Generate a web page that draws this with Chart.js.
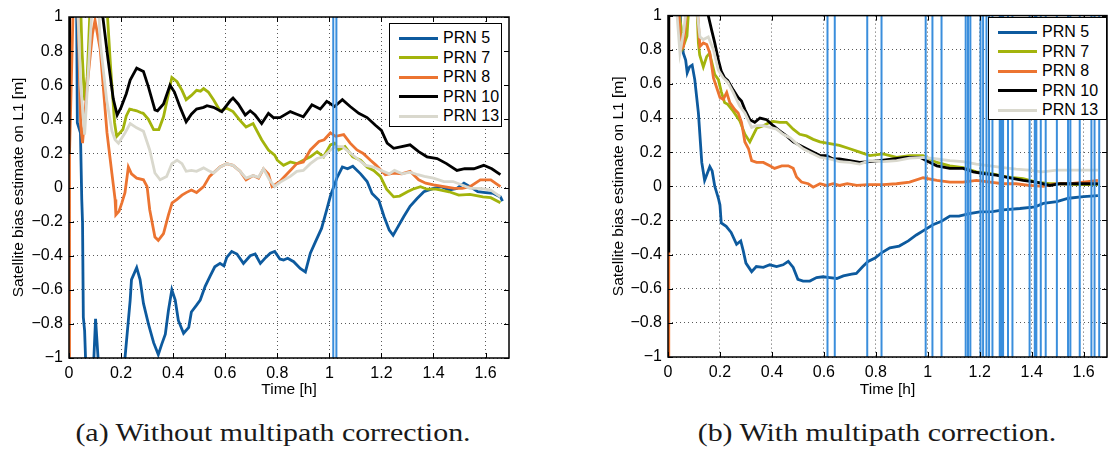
<!DOCTYPE html>
<html lang="en">
<head>
<meta charset="UTF-8">
<title>Satellite bias estimate on L1</title>
<script src="https://cdn.jsdelivr.net/npm/chart.js"></script>
<style>
  body { margin: 0; background: #fff; width: 1109px; height: 450px; position: relative; overflow: hidden; }
  canvas { position: absolute; top: 0; }
  #chartA { left: 0; }
  #chartB { left: 600px; }
  .legend { position: absolute; background: #fff; border: 1px solid #000; box-sizing: border-box; padding-top: 4px;
            font-family: "Liberation Sans", Arial, sans-serif; font-size: 16px; color: #000; }
  .legend div { position: relative; height: 19.5px; line-height: 19.5px; padding-left: 53px; white-space: nowrap; }
  .legend span { position: absolute; left: 9px; top: 8.5px; width: 39px; height: 3px; }
  .caption { position: absolute; top: 418px; width: 540px; text-align: center; white-space: nowrap;
             font-family: "Liberation Serif", "Times New Roman", serif; font-size: 26px; color: #1a1a1a; transform: scaleX(1.15); }
</style>
</head>
<body>
  <canvas id="chartA" width="540" height="400"></canvas>
  <canvas id="chartB" width="509" height="400"></canvas>
  <div class="legend" id="legendA" style="left:389px; top:23px; width:113px; height:104px;"></div>
  <div class="legend" id="legendB" style="left:988px; top:17px; width:119px; height:103px;"></div>
  <div class="caption" style="left:3px;">(a) Without multipath correction.</div>
  <div class="caption" style="left:607px;">(b) With multipath correction.</div>

<script>
// axes
const xTicks = [0, 0.2, 0.4, 0.6, 0.8, 1, 1.2, 1.4, 1.6];
const yTicks = [-1, -0.8, -0.6, -0.4, -0.2, 0, 0.2, 0.4, 0.6, 0.8, 1];
const xMax = 1.69;

const labels = ['PRN 5', 'PRN 7', 'PRN 8', 'PRN 10', 'PRN 13'];
const colors = ['#0d5a9e', '#a3b40c', '#ec7431', '#000000', '#d9d8cd'];

// (a) without multipath correction  [time h, bias m]
const a5 = [[0,0.85],[0.008,1.6],[0.028,1.4],[0.032,0.38],[0.044,0.32],[0.049,-0.07],[0.052,-0.21],[0.055,-0.76],[0.06,-0.84],[0.07,-1.3],[0.09,-1.2],[0.102,-0.77],[0.12,-1.2],[0.15,-1.5],[0.2,-1.3],[0.215,-1.0],[0.235,-0.66],[0.24,-0.54],[0.26,-0.47],[0.273,-0.54],[0.286,-0.68],[0.305,-0.8],[0.325,-0.91],[0.343,-0.98],[0.356,-0.92],[0.37,-0.86],[0.382,-0.72],[0.395,-0.6],[0.408,-0.66],[0.42,-0.78],[0.44,-0.855],[0.46,-0.82],[0.47,-0.73],[0.49,-0.69],[0.504,-0.66],[0.523,-0.58],[0.542,-0.52],[0.56,-0.465],[0.58,-0.445],[0.595,-0.46],[0.606,-0.41],[0.625,-0.375],[0.645,-0.39],[0.67,-0.445],[0.696,-0.4],[0.715,-0.39],[0.735,-0.445],[0.756,-0.41],[0.773,-0.385],[0.79,-0.375],[0.81,-0.42],[0.824,-0.425],[0.84,-0.415],[0.863,-0.435],[0.888,-0.475],[0.908,-0.495],[0.927,-0.385],[0.946,-0.32],[0.97,-0.24],[0.99,-0.13],[1.004,-0.05],[1.03,0.06],[1.05,0.12],[1.07,0.11],[1.09,0.125],[1.12,0.08],[1.145,0.035],[1.164,-0.035],[1.19,-0.075],[1.21,-0.17],[1.23,-0.25],[1.245,-0.28],[1.26,-0.24],[1.286,-0.17],[1.31,-0.11],[1.337,-0.065],[1.363,-0.025],[1.4,-0.005],[1.43,0.005],[1.46,-0.015],[1.49,-0.005],[1.517,0.025],[1.54,0.005],[1.57,-0.025],[1.6,-0.03],[1.63,-0.035],[1.657,-0.055],[1.665,-0.08]];
const a7 = [[0,1.6],[0.04,1.3],[0.05,0.8],[0.06,0.51],[0.07,0.65],[0.085,1.2],[0.12,1.5],[0.14,1.2],[0.16,0.7],[0.175,0.38],[0.183,0.3],[0.195,0.32],[0.207,0.34],[0.22,0.42],[0.233,0.46],[0.245,0.455],[0.26,0.45],[0.275,0.44],[0.285,0.435],[0.305,0.4],[0.325,0.34],[0.345,0.34],[0.363,0.415],[0.382,0.55],[0.395,0.645],[0.415,0.62],[0.434,0.57],[0.45,0.515],[0.47,0.54],[0.49,0.57],[0.505,0.565],[0.517,0.58],[0.535,0.56],[0.555,0.515],[0.58,0.45],[0.606,0.465],[0.63,0.445],[0.656,0.395],[0.68,0.355],[0.707,0.375],[0.74,0.28],[0.766,0.22],[0.79,0.19],[0.8,0.16],[0.824,0.13],[0.85,0.15],[0.875,0.14],[0.9,0.16],[0.927,0.18],[0.953,0.21],[0.978,0.18],[1.004,0.25],[1.02,0.26],[1.036,0.22],[1.06,0.24],[1.09,0.18],[1.12,0.16],[1.145,0.12],[1.17,0.1],[1.196,0.065],[1.22,-0.01],[1.247,-0.055],[1.27,-0.05],[1.3,-0.025],[1.32,-0.01],[1.35,0.005],[1.375,-0.01],[1.41,-0.01],[1.46,-0.025],[1.497,-0.045],[1.54,-0.04],[1.59,-0.055],[1.62,-0.06],[1.657,-0.09]];
const a8 = [[0,-1.5],[0.002,0.2],[0.02,1.3],[0.035,1.0],[0.045,0.36],[0.052,0.26],[0.07,0.6],[0.09,0.9],[0.1,0.98],[0.12,0.81],[0.146,0.32],[0.165,0.08],[0.177,-0.07],[0.18,-0.16],[0.192,-0.14],[0.203,-0.09],[0.215,-0.03],[0.228,0.12],[0.24,0.08],[0.26,0.055],[0.286,0.045],[0.3,0.005],[0.31,-0.13],[0.33,-0.29],[0.343,-0.31],[0.363,-0.27],[0.382,-0.16],[0.396,-0.09],[0.415,-0.07],[0.434,-0.045],[0.45,-0.03],[0.47,-0.015],[0.49,-0.03],[0.517,0.005],[0.54,0.065],[0.58,0.12],[0.606,0.14],[0.63,0.13],[0.657,0.095],[0.68,0.045],[0.707,0.07],[0.728,0.055],[0.747,0.11],[0.766,0.08],[0.78,0.005],[0.81,0.035],[0.85,0.1],[0.875,0.14],[0.9,0.15],[0.927,0.22],[0.96,0.27],[0.98,0.28],[1.004,0.32],[1.024,0.3],[1.055,0.31],[1.08,0.26],[1.106,0.22],[1.13,0.2],[1.158,0.16],[1.18,0.13],[1.215,0.075],[1.247,0.085],[1.278,0.08],[1.31,0.095],[1.343,0.045],[1.37,0.025],[1.4,0.015],[1.44,0.005],[1.48,-0.005],[1.51,-0.005],[1.54,0.005],[1.58,0.045],[1.62,0.045],[1.657,0.005]];
const a10 = [[0,0.2],[0.004,1.5],[0.1,1.4],[0.13,1.0],[0.15,0.75],[0.17,0.52],[0.185,0.425],[0.2,0.47],[0.22,0.55],[0.235,0.63],[0.26,0.7],[0.286,0.68],[0.305,0.59],[0.33,0.455],[0.34,0.45],[0.363,0.49],[0.388,0.6],[0.405,0.56],[0.427,0.47],[0.45,0.385],[0.47,0.43],[0.49,0.46],[0.517,0.47],[0.53,0.48],[0.555,0.47],[0.587,0.445],[0.62,0.51],[0.63,0.525],[0.65,0.49],[0.677,0.425],[0.696,0.45],[0.715,0.425],[0.74,0.375],[0.766,0.435],[0.785,0.41],[0.81,0.41],[0.85,0.445],[0.875,0.43],[0.9,0.415],[0.933,0.485],[0.965,0.46],[0.99,0.505],[1.02,0.475],[1.05,0.515],[1.08,0.475],[1.113,0.435],[1.145,0.41],[1.177,0.365],[1.2,0.335],[1.222,0.26],[1.247,0.23],[1.278,0.24],[1.31,0.25],[1.343,0.21],[1.375,0.18],[1.414,0.17],[1.45,0.14],[1.49,0.1],[1.52,0.11],[1.555,0.11],[1.593,0.13],[1.624,0.11],[1.657,0.075]];
const a13 = [[0,1.5],[0.03,1.2],[0.045,0.6],[0.06,0.31],[0.075,0.7],[0.09,1.1],[0.11,1.2],[0.12,0.85],[0.145,0.51],[0.165,0.33],[0.177,0.28],[0.19,0.26],[0.215,0.32],[0.235,0.375],[0.26,0.35],[0.286,0.33],[0.31,0.22],[0.33,0.085],[0.35,0.045],[0.375,0.065],[0.395,0.14],[0.415,0.16],[0.434,0.14],[0.45,0.095],[0.47,0.1],[0.49,0.095],[0.517,0.115],[0.535,0.1],[0.555,0.085],[0.58,0.12],[0.606,0.14],[0.63,0.13],[0.657,0.095],[0.68,0.055],[0.707,0.07],[0.728,0.06],[0.747,0.11],[0.77,0.045],[0.79,0.005],[0.81,0.03],[0.85,0.065],[0.875,0.095],[0.9,0.1],[0.927,0.14],[0.953,0.17],[0.978,0.18],[1.004,0.22],[1.024,0.24],[1.05,0.24],[1.074,0.21],[1.106,0.17],[1.14,0.13],[1.17,0.12],[1.2,0.1],[1.23,0.08],[1.25,0.1],[1.28,0.08],[1.31,0.09],[1.34,0.075],[1.365,0.065],[1.4,0.055],[1.44,0.035],[1.475,0.035],[1.51,0.015],[1.54,-0.005],[1.58,-0.005],[1.62,-0.015],[1.657,-0.055]];
const aSpikes = [1.015, 1.027];

// (b) with multipath correction
const b5 = [[0,1.5],[0.04,1.3],[0.05,0.9],[0.059,0.78],[0.068,0.74],[0.074,0.665],[0.083,0.7],[0.093,0.71],[0.103,0.625],[0.117,0.43],[0.13,0.14],[0.141,0.035],[0.15,0.07],[0.161,0.115],[0.17,0.09],[0.18,0.0],[0.194,-0.07],[0.2,-0.11],[0.205,-0.215],[0.224,-0.235],[0.243,-0.27],[0.264,-0.34],[0.28,-0.32],[0.29,-0.38],[0.3,-0.45],[0.322,-0.5],[0.34,-0.47],[0.367,-0.475],[0.392,-0.46],[0.418,-0.47],[0.443,-0.46],[0.463,-0.44],[0.482,-0.475],[0.5,-0.545],[0.52,-0.555],[0.546,-0.555],[0.572,-0.535],[0.597,-0.53],[0.623,-0.535],[0.65,-0.54],[0.675,-0.525],[0.707,-0.515],[0.725,-0.51],[0.75,-0.47],[0.77,-0.44],[0.797,-0.42],[0.822,-0.39],[0.854,-0.36],[0.89,-0.35],[0.925,-0.32],[0.956,-0.285],[0.988,-0.255],[1.02,-0.225],[1.053,-0.205],[1.085,-0.175],[1.12,-0.175],[1.16,-0.16],[1.2,-0.15],[1.25,-0.148],[1.29,-0.138],[1.355,-0.13],[1.413,-0.12],[1.445,-0.1],[1.497,-0.09],[1.542,-0.07],[1.6,-0.06],[1.655,-0.055]];
const b7 = [[0,1.5],[0.04,1.05],[0.053,0.9],[0.059,0.82],[0.073,0.88],[0.08,1.05],[0.11,1.1],[0.117,0.84],[0.122,0.77],[0.136,0.7],[0.149,0.76],[0.16,0.78],[0.18,0.655],[0.194,0.625],[0.205,0.555],[0.218,0.49],[0.23,0.48],[0.251,0.44],[0.276,0.385],[0.296,0.305],[0.315,0.26],[0.328,0.3],[0.341,0.34],[0.367,0.355],[0.392,0.375],[0.405,0.38],[0.43,0.375],[0.456,0.375],[0.482,0.335],[0.507,0.305],[0.533,0.295],[0.559,0.275],[0.585,0.26],[0.623,0.25],[0.66,0.24],[0.7,0.22],[0.738,0.2],[0.777,0.18],[0.828,0.19],[0.88,0.17],[0.93,0.18],[0.982,0.18],[1.035,0.14],[1.085,0.12],[1.136,0.11],[1.187,0.085],[1.24,0.075],[1.303,0.055],[1.367,0.045],[1.418,0.025],[1.47,0.015],[1.52,0.015],[1.573,0.01],[1.655,0.01]];
const b8 = [[0,-1.5],[0.003,1.5],[0.035,1.2],[0.05,0.8],[0.06,0.82],[0.075,1.1],[0.11,1.1],[0.123,0.82],[0.136,0.84],[0.149,0.83],[0.161,0.78],[0.175,0.635],[0.186,0.585],[0.2,0.52],[0.213,0.51],[0.226,0.55],[0.238,0.49],[0.257,0.45],[0.27,0.43],[0.283,0.375],[0.296,0.26],[0.31,0.22],[0.322,0.15],[0.341,0.14],[0.367,0.14],[0.392,0.12],[0.41,0.105],[0.438,0.12],[0.463,0.12],[0.482,0.105],[0.495,0.055],[0.514,0.025],[0.54,0.015],[0.559,-0.005],[0.585,0.015],[0.61,0.005],[0.636,0.015],[0.66,0.005],[0.69,0.015],[0.727,0.005],[0.77,0.01],[0.828,0.01],[0.88,0.015],[0.93,0.025],[0.982,0.05],[1.035,0.035],[1.085,0.025],[1.136,0.025],[1.187,0.035],[1.24,0.025],[1.29,0.015],[1.34,0.015],[1.39,0.005],[1.445,0.0],[1.497,0.015],[1.55,0.015],[1.6,0.025],[1.655,0.035]];
const b10 = [[0,-0.38],[0.003,1.5],[0.15,1.2],[0.155,1.0],[0.168,0.915],[0.18,0.84],[0.194,0.74],[0.205,0.675],[0.218,0.635],[0.23,0.62],[0.251,0.565],[0.27,0.52],[0.283,0.5],[0.296,0.45],[0.315,0.39],[0.334,0.375],[0.354,0.4],[0.38,0.39],[0.405,0.355],[0.43,0.325],[0.456,0.295],[0.482,0.26],[0.507,0.24],[0.533,0.22],[0.56,0.2],[0.585,0.18],[0.61,0.18],[0.636,0.16],[0.66,0.16],[0.7,0.15],[0.738,0.14],[0.777,0.145],[0.815,0.15],[0.867,0.16],[0.918,0.17],[0.97,0.17],[0.995,0.15],[1.035,0.12],[1.085,0.105],[1.136,0.105],[1.175,0.085],[1.213,0.075],[1.264,0.065],[1.316,0.05],[1.367,0.035],[1.418,0.025],[1.47,0.005],[1.51,0.015],[1.56,0.015],[1.61,0.015],[1.655,0.015]];
const b13 = [[0,1.5],[0.03,1.1],[0.046,0.78],[0.06,0.9],[0.075,1.1],[0.11,1.05],[0.123,0.875],[0.136,0.86],[0.155,0.875],[0.175,0.8],[0.194,0.68],[0.213,0.635],[0.23,0.61],[0.251,0.55],[0.276,0.47],[0.296,0.43],[0.322,0.345],[0.341,0.355],[0.367,0.355],[0.392,0.345],[0.418,0.335],[0.443,0.305],[0.47,0.285],[0.495,0.25],[0.52,0.22],[0.546,0.2],[0.585,0.17],[0.623,0.16],[0.66,0.145],[0.7,0.14],[0.738,0.13],[0.777,0.15],[0.828,0.145],[0.88,0.15],[0.93,0.165],[0.982,0.17],[1.035,0.16],[1.085,0.15],[1.136,0.145],[1.187,0.13],[1.24,0.12],[1.29,0.11],[1.34,0.1],[1.39,0.095],[1.44,0.085],[1.497,0.095],[1.55,0.095],[1.6,0.095],[1.655,0.095]];
const bSpikes = [0.614, 0.642, 0.767, 0.822, 0.992, 1.018, 1.053, 1.146, 1.155, 1.164, 1.203, 1.213, 1.226, 1.236, 1.249, 1.277, 1.283, 1.29, 1.309, 1.326, 1.392, 1.412, 1.418, 1.435, 1.454, 1.497, 1.54, 1.549, 1.585, 1.63, 1.642, 1.66];

Chart.defaults.font.family = '"Liberation Sans", Arial, sans-serif';
Chart.defaults.font.size = 16;
Chart.defaults.color = '#000';

// box around the axes plus small inward ticks on all four sides
const frame = {
  id: 'frame',
  afterDatasetsDraw(chart) {
    const {ctx, chartArea: a, scales: {x, y}} = chart;
    ctx.save();
    ctx.strokeStyle = '#000';
    ctx.lineWidth = 1;
    ctx.beginPath();
    x.ticks.forEach(t => {
      const p = Math.round(x.getPixelForValue(t.value)) + 0.5;
      ctx.moveTo(p, a.bottom); ctx.lineTo(p, a.bottom - 5);
      ctx.moveTo(p, a.top); ctx.lineTo(p, a.top + 5);
    });
    y.ticks.forEach(t => {
      const p = Math.round(y.getPixelForValue(t.value)) + 0.5;
      ctx.moveTo(a.left, p); ctx.lineTo(a.left + 5, p);
      ctx.moveTo(a.right, p); ctx.lineTo(a.right - 5, p);
    });
    ctx.stroke();
    ctx.lineWidth = 1.5;
    ctx.strokeRect(a.left, a.top, a.right - a.left, a.bottom - a.top);
    ctx.restore();
  }
};

const fmt = v => String(+(+v).toFixed(1)).replace('-', '\u2212');

function makeChart(id, series, spikes, yWidth, xHeight, pad) {
  const sets = series.map((s, i) => ({
    label: labels[i],
    data: s.map(([x, y]) => ({x, y})),
    borderColor: colors[i],
    borderWidth: 2.8,
    pointRadius: 0,
    tension: 0,
    clip: 0,
    order: 10 - i
  }));
  // vertical blue jumps that run off both ends of the axis
  const lo = yTicks[0] - 1, hi = yTicks[yTicks.length - 1] + 1;
  sets.push({
    data: spikes.flatMap(t => [{x: t, y: lo}, {x: t, y: hi}, {x: t, y: null}]),
    borderColor: '#3a8edc',
    borderWidth: 2,
    pointRadius: 0,
    spanGaps: false,
    clip: 0,
    order: 0
  });

  return new Chart(document.getElementById(id), {
    type: 'line',
    data: { datasets: sets },
    options: {
      responsive: false,
      animation: false,
      devicePixelRatio: 1,
      layout: { padding: pad },
      plugins: { legend: { display: false }, tooltip: { enabled: false } },
      scales: {
        x: {
          type: 'linear', min: 0, max: xMax,
          afterBuildTicks: s => { s.ticks = xTicks.map(v => ({value: v})); },
          afterFit: s => { s.height = xHeight; },
          ticks: { padding: 6, maxRotation: 0, callback: fmt },
          grid: { color: 'rgba(0,0,0,0.65)', drawTicks: false },
          border: { display: false, dash: [1, 3] },
          title: { display: true, text: 'Time [h]', font: { size: 15.5 }, padding: { top: 0, bottom: 1 } }
        },
        y: {
          type: 'linear', min: yTicks[0], max: yTicks[yTicks.length - 1],
          afterBuildTicks: s => { s.ticks = yTicks.map(v => ({value: v})); },
          afterFit: s => { s.width = yWidth; },
          ticks: { padding: 6, callback: fmt },
          grid: { color: 'rgba(0,0,0,0.65)', drawTicks: false },
          border: { display: false, dash: [1, 3] },
          title: { display: true, text: 'Satellite bias estimate on L1 [m]', font: { size: 15.5 }, padding: { top: 9.5, bottom: 0 } }
        }
      }
    },
    plugins: [frame]
  });
}

function fillLegend(id, chart) {
  const box = document.getElementById(id);
  chart.data.datasets.filter(d => d.label).forEach(d => {
    const row = document.createElement('div');
    const swatch = document.createElement('span');
    swatch.style.background = d.borderColor;
    row.appendChild(swatch);
    row.appendChild(document.createTextNode(d.label));
    box.appendChild(row);
  });
}

const chartA = makeChart('chartA', [a5, a7, a8, a10, a13], aSpikes, 69, 42, { top: 17, right: 31 });
const chartB = makeChart('chartB', [b5, b7, b8, b10, b13], bSpikes, 68, 43, { top: 12, right: 2 });
fillLegend('legendA', chartA);
fillLegend('legendB', chartB);
</script>
</body>
</html>
